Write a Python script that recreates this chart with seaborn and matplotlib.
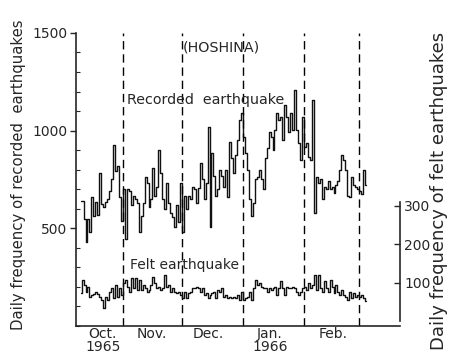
import numpy as np
import pandas as pd
import matplotlib
matplotlib.use("Agg")
import matplotlib.pyplot as plt
from matplotlib.ticker import MultipleLocator
import seaborn as sns

# Day numbers counted from 1 Oct 1965 (day 0); series begin on day 9
start_day = 9

# Daily frequency of recorded earthquakes, month by month
recorded_oct = [640, 640, 546, 430, 546, 480, 658, 561, 637, 566, 785, 622,
                607, 637, 648, 693, 750, 925, 795, 821, 660, 536]
recorded_nov = [699, 444, 699, 690, 617, 668, 648, 632, 480, 561, 632, 765,
                734, 607, 648, 811, 663, 714, 903, 785, 648, 597, 734, 632,
                581, 556, 505, 617, 530, 734]
recorded_dec = [480, 663, 597, 663, 648, 714, 699, 632, 704, 836, 750, 648,
                734, 1020, 505, 887, 770, 663, 699, 800, 770, 714, 800, 658,
                943, 862, 785, 877, 954, 1056, 1091]
recorded_jan = [969, 887, 800, 648, 561, 632, 750, 765, 800, 750, 699, 862,
                913, 995, 969, 903, 1005, 1091, 1056, 1071, 954, 1132, 1071,
                995, 1091, 1005, 1209, 1005, 938, 852, 1071]
recorded_feb = [918, 938, 867, 852, 1158, 581, 765, 734, 750, 648, 714, 699,
                740, 699, 709, 683, 724, 740, 800, 877, 852, 800, 663, 658,
                765, 724, 709, 699]
recorded_mar = [689, 678, 800, 724]

# Daily frequency of felt earthquakes (right-hand scale)
felt_oct = [74, 108, 95, 77, 90, 64, 68, 72, 77, 70, 64, 56, 35, 64, 56, 77,
            87, 60, 95, 64, 87, 68]
felt_nov = [100, 108, 90, 77, 113, 87, 113, 82, 108, 82, 95, 87, 77, 82, 95,
            116, 100, 87, 90, 82, 87, 121, 90, 95, 77, 87, 77, 73, 77, 68]
felt_dec = [60, 77, 60, 73, 77, 87, 87, 90, 87, 77, 87, 68, 73, 60, 68, 73,
            77, 60, 82, 77, 87, 64, 68, 60, 64, 60, 64, 60, 68, 56, 77]
felt_jan = [56, 60, 64, 77, 56, 87, 108, 95, 100, 90, 87, 87, 77, 87, 82, 87,
            90, 68, 87, 104, 87, 68, 90, 87, 87, 90, 87, 77, 68, 77, 87]
felt_feb = [90, 82, 100, 87, 95, 121, 82, 121, 87, 77, 104, 87, 77, 108, 90,
            73, 95, 77, 68, 82, 68, 64, 56, 77, 60, 73, 64, 68]
felt_mar = [64, 68, 60, 53]

# First day of Nov, Dec, Jan, Feb, Mar
month_starts = [31, 61, 92, 123, 151]
month_label_days = [20.8, 45.7, 74.2, 105.7, 137.8]
month_labels = ["Oct.\n1965", "Nov.", "Dec.", "Jan.\n1966", "Feb."]

recorded = recorded_oct + recorded_nov + recorded_dec + recorded_jan + recorded_feb + recorded_mar
felt = felt_oct + felt_nov + felt_dec + felt_jan + felt_feb + felt_mar
days = np.arange(start_day, start_day + len(recorded)) + 0.5
df = pd.DataFrame({"day": days, "recorded": recorded, "felt": felt})

sns.set_style("white")
plt.rcParams["font.family"] = ["DejaVu Sans"]
plt.rcParams["axes.linewidth"] = 1.2

fig = plt.figure(figsize=(4.49, 3.54), dpi=100)
ax = fig.add_axes([0.169, 0.079, 0.722, 0.828])
ax2 = ax.twinx()

sns.lineplot(data=df, x="day", y="recorded", ax=ax, color="#111111",
             linewidth=1.0, drawstyle="steps-mid", estimator=None)
sns.lineplot(data=df, x="day", y="felt", ax=ax2, color="#111111",
             linewidth=1.0, drawstyle="steps-mid", estimator=None)

ax.set_xlim(7.1, 171.8)
ax.set_ylim(0, 1500)
ax2.set_ylim(-12, 749)

for d in month_starts:
    ax.axvline(d, color="black", linewidth=1.0, linestyle=(0, (6, 3.5)))

# left axis
ax.set_yticks([500, 1000, 1500])
ax.set_yticklabels(["500", "1000", "1500"], fontsize=10)
ax.yaxis.set_minor_locator(MultipleLocator(100))
ax.tick_params(axis="y", which="major", direction="out", length=4, width=1, pad=2)
ax.tick_params(axis="y", which="minor", direction="in", length=3, width=0.8, left=True)
ax.set_ylabel("Daily frequency of recorded  earthquakes", fontsize=10.7)
ax.yaxis.set_label_coords(-0.155, 0.515)

# bottom axis: month names only
ax.set_xticks(month_label_days)
ax.set_xticklabels(month_labels, fontsize=10, linespacing=0.85)
ax.tick_params(axis="x", length=0, pad=1)
ax.set_xlabel("")

for s in ["top", "right"]:
    ax.spines[s].set_visible(False)

# right axis for felt earthquakes
for s in ["top", "left", "bottom"]:
    ax2.spines[s].set_visible(False)
ax2.spines["right"].set_bounds(0, 310)
ax2.spines["right"].set_linewidth(1.2)
ax2.set_yticks([100, 200, 300])
ax2.set_yticklabels(["100", "200", "300"], fontsize=10)
ax2.tick_params(axis="y", direction="in", length=4, width=1, pad=3)
ax2.set_ylabel("")

fig.text(0.978, 0.46, "Daily frequency of felt earthquakes", rotation=90,
         ha="center", va="center", fontsize=13)
fig.text(0.494, 0.867, "(HOSHINA)", ha="center", va="center", fontsize=10.3)
fig.text(0.283, 0.718, "Recorded  earthquake", ha="left", va="center", fontsize=10.3)
fig.text(0.290, 0.251, "Felt earthquake", ha="left", va="center", fontsize=10)

fig.savefig("out.png", dpi=100, facecolor="white")
